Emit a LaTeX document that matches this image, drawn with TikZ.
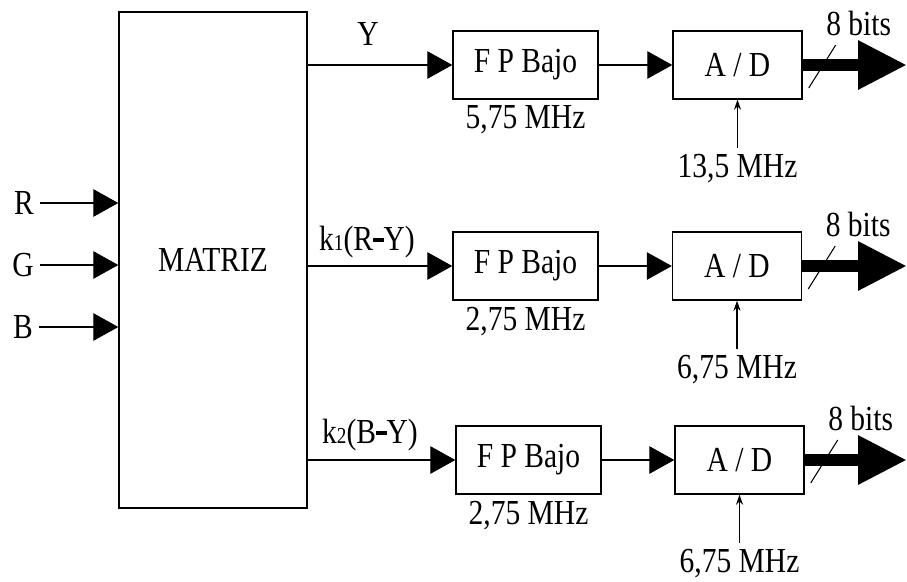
\documentclass[tikz,border=0pt]{standalone}
\usepackage{fontspec}
\setmainfont[FakeStretch=0.84]{Liberation Serif}
\usetikzlibrary{
  arrows.meta, % Triangle 等箭头样式
  calc,        % 坐标计算
  positioning  % 节点相对定位
}

\tikzset{
  caja/.style={draw, thick, minimum width=2.9cm, minimum height=1.36cm, inner sep=0pt},
  cajaad/.style={caja, minimum width=2.58cm},
  flecha/.style={semithick, -{Triangle[length=0.5cm, width=0.55cm]}},
  reloj/.style={semithick, -{Stealth[length=0.2cm, width=0.14cm]}},
  salida/.style={line width=0.24cm, -{Triangle[length=0.98cm, width=0.92cm]}}
}
% 小号下标与粗短横
\newcommand{\subk}[1]{{\fontsize{13}{13}\selectfont #1}}
\newcommand{\guion}{\rule[0.24em]{0.3em}{0.11em}}

\begin{document}
\begin{tikzpicture}[x=1cm, y=1cm, font=\fontsize{20}{23}\selectfont] % 1厘米 = 原图50像素
  \useasboundingbox (0,0) rectangle (18.14,11.62);

  % =============== 矩阵与输入 ===============
  \node[draw, thick, minimum width=3.76cm, minimum height=9.92cm] (matriz) at (4.26,6.42) {MATRIZ};

  \node (ir) at (0.48,7.56) {R};
  \node (ig) at (0.46,6.32) {G};
  \node (ib) at (0.46,5.08) {B};
  \draw[flecha] (ir.east) -- (ir.east -| matriz.west);
  \draw[flecha] (ig.east) -- (ig.east -| matriz.west);
  \draw[flecha] (ib.east) -- (ib.east -| matriz.west);

  % =============== 上行：Y ===============
  \node[caja] (fp1) at (10.51,10.32) {F P Bajo};
  \node[below=0pt of fp1] (f1) {5,75 MHz};
  \node[cajaad] (ad1) at (14.75,10.32) {A / D};
  \node (ly) at (7.36,10.94) {Y};
  \draw[flecha] (matriz.east |- fp1.west) -- (fp1.west);
  \draw[flecha] (fp1.east) -- (ad1.west);

  \coordinate (c1) at ($(ad1.south)+(0,-0.96)$);
  \node[below=0pt of c1] (r1) {13,5 MHz};
  \draw[reloj] (c1) -- (ad1.south);

  \coordinate (s1) at (18.14,10.32);
  \draw[salida] (ad1.east) -- (s1);
  \draw[semithick] ($(ad1.east)+(0.12,-0.46)$) -- ($(ad1.east)+(0.66,0.40)$);
  \node (b1) at ($(ad1.east)+(1.12,0.84)$) {8 bits};

  % =============== 中行：k1(R-Y) ===============
  \node[caja] (fp2) at (10.51,6.30) {F P Bajo};
  \node[below=0pt of fp2] (f2) {2,75 MHz};
  \node[cajaad] (ad2) at (14.74,6.30) {A / D};
  \node (lk1) at (7.34,6.78) {k\subk{1}(R\guion Y)};
  \draw[flecha] (matriz.east |- fp2.west) -- (fp2.west);
  \draw[flecha] (fp2.east) -- (ad2.west);

  \coordinate (c2) at ($(ad2.south)+(0,-0.96)$);
  \node[below=0pt of c2] (r2) {6,75 MHz};
  \draw[reloj] (c2) -- (ad2.south);

  \coordinate (s2) at (18.14,6.30);
  \draw[salida] (ad2.east) -- (s2);
  \draw[semithick] ($(ad2.east)+(0.12,-0.46)$) -- ($(ad2.east)+(0.66,0.40)$);
  \node (b2) at ($(ad2.east)+(1.12,0.84)$) {8 bits};

  % =============== 下行：k2(B-Y) ===============
  \node[caja] (fp3) at (10.57,2.42) {F P Bajo};
  \node[below=0pt of fp3] (f3) {2,75 MHz};
  \node[cajaad] (ad3) at (14.79,2.42) {A / D};
  \node (lk2) at (7.40,2.92) {k\subk{2}(B\guion Y)};
  \draw[flecha] (matriz.east |- fp3.west) -- (fp3.west);
  \draw[flecha] (fp3.east) -- (ad3.west);

  \coordinate (c3) at ($(ad3.south)+(0,-0.96)$);
  \node[below=0pt of c3] (r3) {6,75 MHz};
  \draw[reloj] (c3) -- (ad3.south);

  \coordinate (s3) at (18.14,2.42);
  \draw[salida] (ad3.east) -- (s3);
  \draw[semithick] ($(ad3.east)+(0.12,-0.46)$) -- ($(ad3.east)+(0.66,0.40)$);
  \node (b3) at ($(ad3.east)+(1.12,0.84)$) {8 bits};

\end{tikzpicture}
\end{document}
